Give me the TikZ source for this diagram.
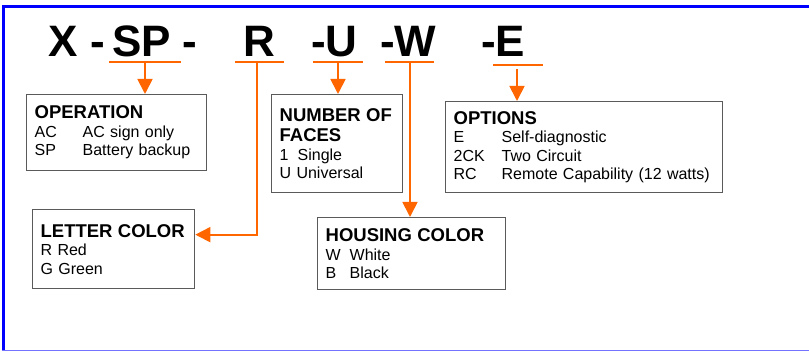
\documentclass[tikz,border=0pt]{standalone}
\usepackage{fontspec}
\setmainfont{Liberation Sans}
\usetikzlibrary{arrows.meta}
\definecolor{signorange}{HTML}{FF6600}
\definecolor{framegray}{HTML}{5A5A5A}
\newcommand{\boxtitle}[1]{{\fontsize{18.5}{20}\selectfont\bfseries #1}}
\newcommand{\codecol}[2]{\makebox[#1][l]{#2}}

\begin{document}
\begin{tikzpicture}[x=1pt,y=-1pt,
	code/.style={anchor=base west,inner sep=0pt,font=\fontsize{44}{48}\selectfont\bfseries},
	infobox/.style={draw=framegray,line width=1.3pt,anchor=north west,align=left,inner xsep=8pt,inner ysep=0pt,font=\fontsize{16}{18.5}\selectfont},
	uline/.style={signorange,line width=1.8pt},
	feed/.style={signorange,line width=1.8pt,-{Triangle[length=15pt,width=15pt]}}]
	\useasboundingbox (0,0) rectangle (809,352);
	\draw[blue,line width=3pt] (2,6.5) -- (809,6.5);
	\draw[blue,line width=3pt] (3.5,5.5) -- (3.5,350);
	\draw[blue!55,line width=1.5pt] (2,350.5) -- (809,350.5);

	\node[code] (codeX) at (48,57) {X};
	\node[code] (dashA) at (90,57) {-};
	\node[code] (codeSP) at (112,57) {SP};
	\node[code] (dashB) at (182,57) {-};
	\node[code] (codeR) at (243,57) {R};
	\node[code] (codeU) at (311,57) {-U};
	\node[code] (codeW) at (380,57) {-W};
	\node[code] (codeE) at (481,57) {-E};

	\coordinate (uSP) at (145,62);
	\coordinate (uR) at (257,62);
	\coordinate (uU) at (338,62);
	\coordinate (uW) at (410,62);
	\coordinate (uE) at (517,65);
	\draw[uline] ([xshift=-36pt]uSP) -- ([xshift=36pt]uSP);
	\draw[uline] ([xshift=-22pt]uR) -- ([xshift=27pt]uR);
	\draw[uline] ([xshift=-25pt]uU) -- ([xshift=25pt]uU);
	\draw[uline] ([xshift=-25pt]uW) -- ([xshift=24pt]uW);
	\draw[uline] ([xshift=-24pt]uE) -- ([xshift=26pt]uE);

	\node[infobox,text width=164pt,minimum height=76pt] (operation) at (26,94)
		{\boxtitle{OPERATION}\\\codecol{48pt}{AC}AC sign only\\\codecol{48pt}{SP}Battery backup};
	\node[infobox,text width=115pt,minimum height=98pt] (faces) at (271,94)
		{\boxtitle{NUMBER OF}\\[1.5pt]\boxtitle{FACES}\\\codecol{18pt}{1}Single\\U Universal};
	\node[infobox,text width=146pt,minimum height=79pt] (letter) at (32,209)
		{\boxtitle{LETTER COLOR}\\R Red\\G Green};
	\node[infobox,text width=172pt,minimum height=72pt] (housing) at (317,217)
		{\boxtitle{HOUSING COLOR}\\\codecol{24pt}{W}White\\\codecol{24pt}{B}Black};
	\node[infobox,text width=261pt,minimum height=91pt] (options) at (445,101)
		{\boxtitle{OPTIONS}\\\codecol{48pt}{E}Self-diagnostic\\\codecol{48pt}{2CK}Two Circuit\\\codecol{48pt}{RC}Remote Capability (12 watts)};

	\draw[feed] (uSP) -- (uSP |- operation.north);
	\draw[feed] (uR) |- ([yshift=14.5pt]letter.east);
	\draw[feed] (uU) -- (uU |- faces.north);
	\draw[feed] (uW) -- (uW |- housing.north);
	\draw[feed] ([yshift=-4pt]uE) -- (uE |- options.north);
\end{tikzpicture}
\end{document}
